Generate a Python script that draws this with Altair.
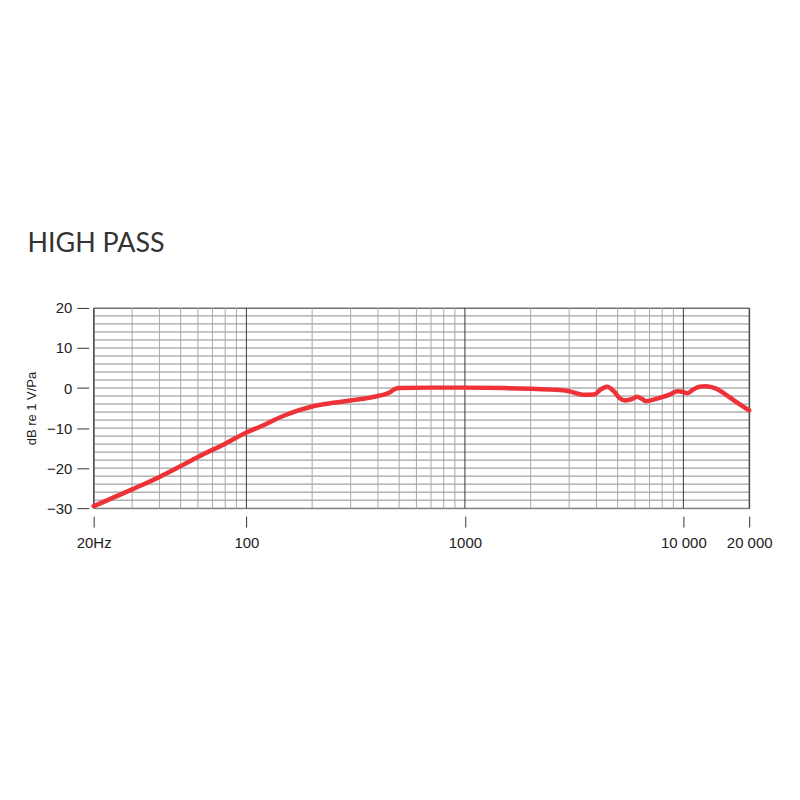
import altair as alt
import pandas as pd

# Frequency response (Hz, dB re 1 V/Pa)
freqs = [20, 30, 40, 50, 60, 80, 100, 114, 150, 200, 250, 300, 350, 400, 450, 480,
         500, 700, 1000, 1500, 2000, 2500, 3000, 3500, 3900, 4200, 4470, 4800, 5100,
         5420, 5800, 6140, 6450, 6750, 7300, 8000, 8700, 9380, 10000, 10450, 11000,
         11800, 12630, 13300, 14040, 15500, 17370, 20000]
levels = [-29.5, -25.3, -22.2, -19.5, -17.2, -13.9, -11.1, -9.8, -6.8, -4.6, -3.7, -3.1,
          -2.6, -2.0, -1.2, -0.2, 0.0, 0.1, 0.1, 0.0, -0.2, -0.4, -0.8, -1.7, -1.6, -0.3,
          0.3, -0.8, -2.5, -3.1, -2.8, -2.2, -2.7, -3.3, -2.9, -2.3, -1.6, -0.8, -1.0,
          -1.3, -0.5, 0.3, 0.45, 0.3, -0.1, -1.5, -3.4, -5.6]

# Grid and tick values
minor_freqs = [30, 40, 50, 60, 70, 80, 90, 200, 300, 400, 500, 600, 700, 800, 900,
               2000, 3000, 4000, 5000, 6000, 7000, 8000, 9000]
major_freqs = [20, 100, 1000, 10000, 20000]
grid_db = list(range(-30, 21, 2))
x_ticks = [20, 100, 1000, 10000, 20000]
x_tick_labels = ["20Hz", "100", "1000", "10 000", "20 000"]
y_ticks = [-30, -20, -10, 0, 10, 20]

x_scale = alt.Scale(type="log", domain=[20, 20000], nice=False)
y_scale = alt.Scale(domain=[-30, 20], nice=False)

curve = pd.DataFrame({"f": freqs, "db": levels})
hgrid = pd.DataFrame({"db": grid_db})
vminor = pd.DataFrame({"f": minor_freqs})
vmajor = pd.DataFrame({"f": major_freqs})

label_map = "{" + ",".join(f"'{v}':'{l}'" for v, l in zip(x_ticks, x_tick_labels)) + "}"

h_lines = alt.Chart(hgrid).mark_rule(color="#8a8a8a", strokeWidth=1).encode(
    y=alt.Y("db:Q", scale=y_scale, axis=alt.Axis(
        values=y_ticks, title="dB re 1 V/Pa", grid=False, domain=False,
        tickSize=12, offset=5, tickColor="#333", labelFontSize=15, labelColor="#222",
        labelFont="Liberation Sans", labelPadding=5, titleFont="Liberation Sans",
        titleFontSize=13, titleFontWeight="normal", titleColor="#222", titlePadding=8)),
)
v_minor = alt.Chart(vminor).mark_rule(color="#a8a8a8", strokeWidth=1).encode(
    x=alt.X("f:Q", scale=x_scale, axis=alt.Axis(
        values=x_ticks, labelExpr=f"{label_map}[datum.value]", title=None, grid=False,
        domain=False, tickSize=11, offset=8, tickColor="#333", labelFontSize=15,
        labelColor="#222", labelFont="Liberation Sans", labelPadding=8, labelFlush=False)),
)
v_major = alt.Chart(vmajor).mark_rule(color="#3a3a3a", strokeWidth=1).encode(
    x=alt.X("f:Q", scale=x_scale),
)
line = alt.Chart(curve).mark_line(color="#ee3238", strokeWidth=4.5, interpolate="monotone",
                                   strokeCap="round").encode(
    x=alt.X("f:Q", scale=x_scale),
    y=alt.Y("db:Q", scale=y_scale),
)

chart = alt.layer(h_lines, v_minor, v_major, line).properties(
    width=658, height=201,
    title=alt.TitleParams("HIGH PASS", anchor="start", frame="bounds", fontSize=27,
                          font="Lato", fontWeight="normal", color="#333", offset=43, dx=2),
    padding={"left": 17, "top": 222, "right": 20, "bottom": 20},
).configure_view(stroke="#555", strokeWidth=1)

chart.save("out.html", embed_options={"renderer": "svg", "actions": False})
